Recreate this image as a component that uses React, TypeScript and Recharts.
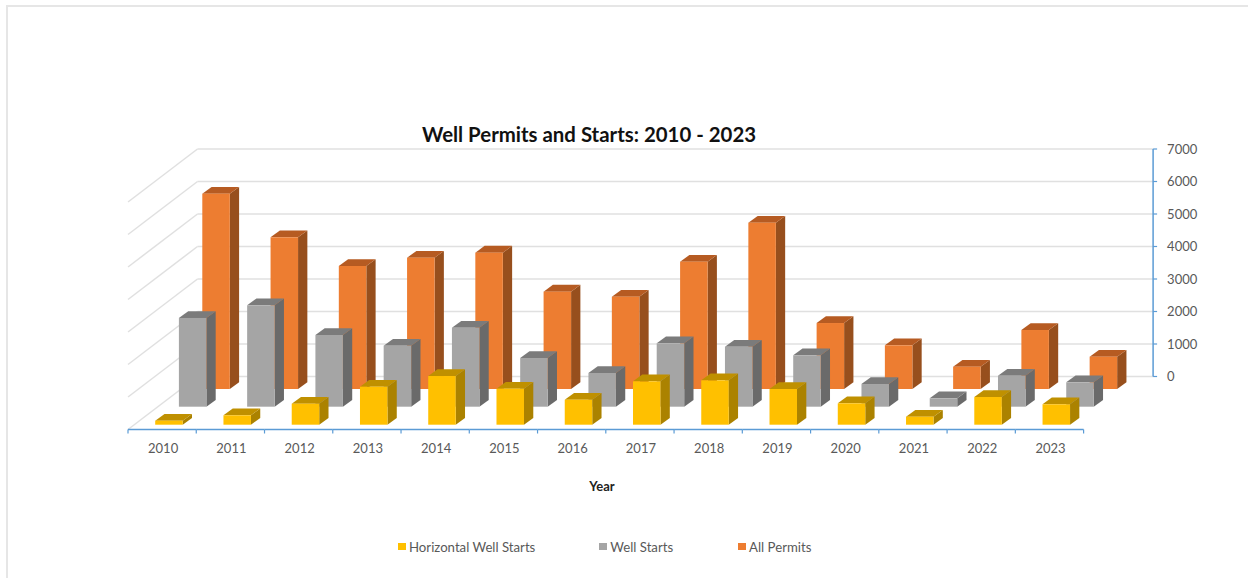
import React from 'react';
import { Bar, BarChart, CartesianGrid, Legend, XAxis, YAxis } from 'recharts';

const years = ['2010', '2011', '2012', '2013', '2014', '2015', '2016', '2017', '2018', '2019', '2020', '2021', '2022', '2023'];
const horizontalStarts = [123, 289, 646, 1169, 1498, 1108, 769, 1335, 1366, 1098, 658, 246, 852, 628];
const wellStarts = [2730, 3120, 2206, 1877, 2430, 1498, 1037, 1950, 1846, 1582, 698, 258, 954, 750];
const allPermits = [6010, 4668, 3785, 4040, 4195, 2995, 2840, 3917, 5117, 2030, 1345, 686, 1815, 994];
const valueTicks = [0, 1000, 2000, 3000, 4000, 5000, 6000, 7000];

const rows = years.map((year, i) => ({
  year,
  horizontal: horizontalStarts[i],
  wells: wellStarts[i],
  permits: allPermits[i],
}));

const FONT = 'Lato, "Open Sans", sans-serif';
const AXIS_BLUE = '#5B9BD5';
const GRID = '#E0E0E0';
const TEXT = '#595959';

// Back wall of the 3D box, in page pixels.
const WALL_LEFT = 197.5;
const WALL_RIGHT = 1153.1;
const WALL_TOP = 149;
const WALL_BOTTOM = 376.5;
const WIDTH = 1248;
const HEIGHT = 578;

// How far the floor runs toward the viewer from the back wall.
const FLOOR_DX = -69.5;
const FLOOR_DY = 53;
const STEP = (WALL_RIGHT - WALL_LEFT) / years.length;

// Depth of one bar's box.
const BOX_DX = 9.3;
const BOX_DY = -6.8;

type Face = { front: string; top: string; side: string };

const ORANGE: Face = { front: '#ED7D31', top: '#B65B22', side: '#974F1D' };
const GRAY: Face = { front: '#A5A5A5', top: '#7B7B7B', side: '#6A6A6A' };
const YELLOW: Face = { front: '#FFC000', top: '#BF9000', side: '#AB8200' };

// Draws a bar as an extruded box, pushed forward onto its own row of the floor.
const box = (face: Face, rowDx: number, rowDy: number) => (props: any) => {
  const x = props.x + rowDx;
  const y = props.y + rowDy;
  const { width: w, height: h } = props;
  return (
    <g>
      <polygon
        points={`${x + w},${y} ${x + w + BOX_DX},${y + BOX_DY} ${x + w + BOX_DX},${y + h + BOX_DY} ${x + w},${y + h}`}
        fill={face.side}
      />
      <polygon
        points={`${x},${y} ${x + BOX_DX},${y + BOX_DY} ${x + w + BOX_DX},${y + BOX_DY} ${x + w},${y}`}
        fill={face.top}
      />
      <rect x={x} y={y} width={w} height={h} fill={face.front} />
    </g>
  );
};

// Each horizontal grid line carries on down the left wall toward the viewer.
const gridLine = (props: any) => {
  const { x1, y1, x2, y2 } = props;
  return (
    <g key={`wall-${y1}`}>
      <line x1={x1} y1={y1} x2={x2} y2={y2} stroke={GRID} strokeWidth={1.5} />
      <line x1={x1} y1={y1} x2={x1 + FLOOR_DX} y2={y1 + FLOOR_DY} stroke={GRID} strokeWidth={1.5} />
    </g>
  );
};

// Category tick on the front edge of the floor, with its stretch of axis line.
const FloorTick = (props: any) => {
  const { x, payload, index } = props;
  const cx = x + FLOOR_DX;
  const axisY = WALL_BOTTOM + FLOOR_DY;
  const left = cx - STEP / 2;
  const right = cx + STEP / 2;
  return (
    <g>
      <line x1={left} y1={axisY} x2={right} y2={axisY} stroke={AXIS_BLUE} strokeWidth={1.5} />
      <line x1={left} y1={axisY} x2={left} y2={axisY + 4} stroke={AXIS_BLUE} strokeWidth={1.2} />
      {index === years.length - 1 && (
        <line x1={right} y1={axisY} x2={right} y2={axisY + 4} stroke={AXIS_BLUE} strokeWidth={1.2} />
      )}
      <text x={cx + 1} y={axisY + 23.5} textAnchor="middle" fontFamily={FONT} fontSize={13} fill={TEXT}>
        {payload.value}
      </text>
    </g>
  );
};

const legendItems = [
  { label: 'Horizontal Well Starts', color: YELLOW.front, left: 397.5 },
  { label: 'Well Starts', color: GRAY.front, left: 598.8 },
  { label: 'All Permits', color: ORANGE.front, left: 737.6 },
];

// The legend box has no height of its own, so it takes nothing away from the plot.
const renderLegend = () => (
  <div style={{ position: 'relative', width: WIDTH, height: 0 }}>
    {legendItems.map((item) => (
      <div key={item.label} style={{ position: 'absolute', left: item.left, top: 0, height: 20 }}>
        <span style={{ position: 'absolute', left: 0, top: 6, width: 8, height: 7, background: item.color }} />
        <span
          style={{
            position: 'absolute',
            left: 11.5,
            top: 0,
            lineHeight: '20px',
            whiteSpace: 'nowrap',
            fontFamily: FONT,
            fontSize: 13.2,
            color: TEXT,
          }}
        >
          {item.label}
        </span>
      </div>
    ))}
  </div>
);

export default function App() {
  return (
    <div style={{ position: 'absolute', left: 0, top: 0, width: WIDTH, height: HEIGHT, overflow: 'hidden', background: '#fff' }}>
      <div
        style={{
          position: 'absolute',
          left: 6,
          top: 5,
          width: 1240,
          height: 600,
          borderLeft: '2px solid #E6E6E6',
          borderTop: '2px solid #E6E6E6',
        }}
      />
      <BarChart
        width={WIDTH}
        height={HEIGHT}
        data={rows}
        barSize={27.5}
        barGap={-27.5}
        barCategoryGap={0}
        margin={{ top: WALL_TOP, left: WALL_LEFT, right: WIDTH - WALL_RIGHT - 60, bottom: HEIGHT - WALL_BOTTOM - 60 }}
        style={{ position: 'absolute', left: 0, top: 0 }}
      >
        <CartesianGrid vertical={false} horizontal={gridLine} />
        <XAxis dataKey="year" height={60} axisLine={false} tickLine={false} interval={0} tick={<FloorTick />} />
        <YAxis
          orientation="right"
          width={60}
          domain={[0, 7000]}
          ticks={valueTicks}
          interval={0}
          axisLine={{ stroke: AXIS_BLUE, strokeWidth: 1.5 }}
          tickLine={{ stroke: AXIS_BLUE, strokeWidth: 1.2 }}
          tickSize={4}
          tickMargin={10}
          tick={{ fontFamily: FONT, fontSize: 13, fill: TEXT }}
        />
        <Bar dataKey="permits" name="All Permits" isAnimationActive={false} fill={ORANGE.front} shape={box(ORANGE, -15.2, 12.5)} />
        <Bar dataKey="wells" name="Well Starts" isAnimationActive={false} fill={GRAY.front} shape={box(GRAY, -38.6, 30.2)} />
        <Bar dataKey="horizontal" name="Horizontal Well Starts" isAnimationActive={false} fill={YELLOW.front} shape={box(YELLOW, -62.3, 48.2)} />
        <Legend content={renderLegend} wrapperStyle={{ left: 0, top: 536.5, width: WIDTH, bottom: 'auto' }} />
        <text x={589} y={142} textAnchor="middle" fontFamily={FONT} fontWeight={700} fontSize={20.4} fill="#111">
          Well Permits and Starts: 2010 - 2023
        </text>
        <text x={602} y={491} textAnchor="middle" fontFamily={FONT} fontWeight={700} fontSize={13} fill="#222">
          Year
        </text>
      </BarChart>
    </div>
  );
}
